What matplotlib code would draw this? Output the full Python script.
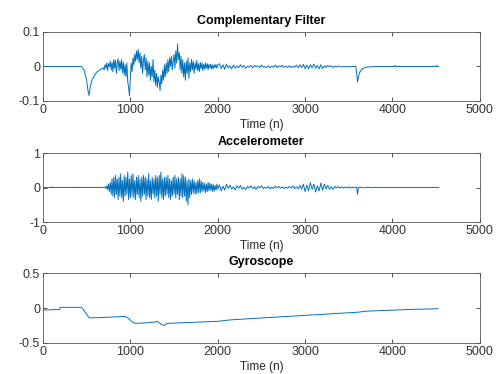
import numpy as np
import matplotlib.pyplot as plt

plt.rcParams['font.family'] = ['Liberation Sans', 'DejaVu Sans']
plt.rcParams['axes.unicode_minus'] = False

LINE_COLOR = '#0072BD'

# ---- Complementary filter ----
comp_head_n = [0, 440, 470, 500, 515, 527, 540, 560, 590, 620, 660, 690]
comp_head_v = [0, 0, -0.01, -0.04, -0.07, -0.084, -0.06, -0.04, -0.025, -0.015, -0.008, -0.004]

# samples 700..2000, every 10
comp_mid_v = [
    -0.01, 0.005, -0.005, 0.01, -0.012, 0.008, 0.0, 0.015, -0.01, 0.012,
    -0.015, 0.02, -0.005, 0.018, -0.02, 0.01, 0.022, -0.012, 0.015, -0.008,
    0.02, -0.018, 0.012, -0.025, 0.005, -0.03, 0.01, -0.045, -0.06, -0.085,
    -0.03, 0.01, -0.015, 0.025, 0.005, 0.035, 0.015, 0.045, 0.02, 0.05,
    0.01, 0.04, -0.005, 0.03, -0.02, 0.02, 0.035, -0.01, 0.025, -0.03,
    0.015, -0.025, 0.01, -0.04, 0.0, -0.03, 0.02, -0.045, -0.01, -0.055,
    -0.02, -0.06, -0.03, -0.045, -0.07, -0.025, -0.05, -0.01, -0.04, 0.005,
    -0.03, 0.01, -0.02, 0.02, -0.015, 0.025, 0.0, 0.03, -0.01, 0.015,
    0.035, -0.005, 0.045, 0.01, 0.065, 0.02, 0.04, -0.01, 0.03, -0.02,
    0.02, -0.03, 0.01, -0.04, 0.015, -0.02, 0.025, -0.035, 0.01, -0.015,
    0.02, -0.01, 0.015, -0.02, 0.01, -0.008, 0.018, -0.012, 0.008, -0.015,
    0.012, -0.006, 0.01, -0.012, 0.006, -0.008, 0.01, -0.005, 0.008, -0.01,
    0.006, -0.004, 0.007, -0.008, 0.004, -0.006, 0.005, -0.003, 0.006, -0.005,
    0.004,
]

# samples 2020..3400, every 20
comp_low_v = [
    0.008, -0.006, 0.005, -0.008, 0.007, -0.004, 0.002, -0.007, 0.004, -0.005,
    0.001, -0.003, 0.005, -0.002, 0.003, -0.005, 0.001, -0.002, 0.003, -0.004,
    0.003, -0.001, 0.002, -0.003, 0.004, -0.002, 0.0, -0.003, 0.002, -0.004,
    0.001, -0.002, 0.004, -0.003, 0.002, -0.001, 0.003, -0.002, 0.001, -0.003,
    0.002, -0.003, 0.001, -0.002, 0.004, -0.004, 0.005, -0.003, 0.006, -0.006,
    0.004, -0.007, 0.005, -0.004, 0.007, -0.005, 0.003, -0.007, 0.005, -0.006,
    0.002, -0.003, 0.003, -0.001, 0.002, -0.003, 0.001, -0.002, 0.002, -0.001,
]

comp_tail_n = [3580, 3590, 3600, 3610, 3630, 3660, 3700, 3800, 4020, 4030, 4040, 4500, 4510, 4520, 4530]
comp_tail_v = [0.0, -0.02, -0.045, -0.03, -0.015, -0.006, -0.002, 0.0, 0.0, 0.003, 0.0, 0.0, 0.003, 0.0, 0.0]

# ---- Accelerometer ----
acc_head_n = [0, 95, 100, 105, 395, 400, 405, 690]
acc_head_v = [0, 0, 0.02, 0, 0, 0.01, 0, 0]

# samples 700..2000, every 10
acc_mid_v = [
    0.0, 0.02, -0.03, 0.05, -0.06, 0.1, -0.12, 0.15, -0.2, 0.25,
    -0.25, 0.3, -0.3, 0.35, -0.2, 0.25, -0.35, 0.3, -0.25, 0.4,
    -0.3, 0.2, -0.4, 0.35, -0.25, 0.3, -0.2, 0.45, -0.35, 0.25,
    -0.3, 0.35, -0.25, 0.4, -0.3, 0.2, -0.35, 0.3, -0.2, 0.35,
    -0.3, 0.25, -0.4, 0.3, -0.25, 0.35, -0.2, 0.3, -0.35, 0.25,
    -0.25, 0.4, -0.3, 0.2, -0.35, 0.3, -0.2, 0.25, -0.3, 0.35,
    -0.25, 0.3, -0.4, 0.35, -0.2, 0.45, -0.3, 0.25, -0.35, 0.3,
    -0.25, 0.3, -0.2, 0.35, -0.3, 0.25, -0.35, 0.2, -0.25, 0.3,
    -0.2, 0.35, -0.3, 0.25, -0.2, 0.3, -0.35, 0.25, -0.25, 0.4,
    -0.3, 0.35, -0.25, 0.3, -0.4, 0.2, -0.5, 0.25, -0.3, 0.2,
    -0.2, 0.25, -0.15, 0.2, -0.2, 0.15, -0.18, 0.2, -0.15, 0.25,
    -0.15, 0.2, -0.12, 0.15, -0.1, 0.12, -0.15, 0.1, -0.12, 0.15,
    -0.1, 0.12, -0.08, 0.1, -0.12, 0.08, -0.1, 0.06, -0.08, 0.1,
    -0.05,
]

# samples 2020..3400, every 20
acc_low_v = [
    0.08, -0.1, 0.04, -0.08, 0.1, -0.03, 0.07, -0.05, 0.02, -0.07,
    0.05, -0.02, 0.06, -0.05, 0.01, -0.06, 0.03, -0.01, 0.05, -0.03,
    0.02, -0.05, 0.03, -0.01, 0.05, -0.03, 0.01, -0.02, 0.03, -0.04,
    0.01, -0.03, 0.04, -0.01, 0.03, -0.02, 0.02, -0.03, 0.01, -0.02,
    0.03, -0.01, 0.04, -0.03, 0.02, -0.04, 0.06, -0.05, 0.1, -0.12,
    0.07, -0.1, 0.14, -0.06, 0.1, -0.13, 0.05, -0.1, 0.13, -0.08,
    0.1, -0.04, 0.06, -0.05, 0.02, -0.05, 0.03, -0.01, 0.03, -0.02,
]

acc_tail_n = [3420, 3440, 3460, 3480, 3500, 3520, 3540, 3560, 3580, 3590, 3600, 3605, 3610,
              3640, 3680, 3720, 3760, 3800, 3840, 3880, 3920, 3960, 4000, 4530]
acc_tail_v = [0.02, -0.02, 0.015, -0.01, 0.02, -0.015, 0.01, -0.01, 0.01, 0.0, -0.2, -0.1, 0.0,
              0.01, -0.01, 0.008, -0.006, 0.005, -0.005, 0.004, -0.003, 0.002, -0.002, 0.0]

# ---- Gyroscope ----
gyro_n = [0, 190, 200, 440, 460, 500, 530, 560, 700, 850, 940, 980, 1020, 1060, 1200, 1280,
          1310, 1350, 1385, 1420, 1600, 1800, 2000, 2140, 2400, 2800, 3200, 3600, 3700, 3800,
          4000, 4200, 4520]
gyro_v = [-0.03, -0.02, 0.01, 0.01, -0.02, -0.09, -0.14, -0.14, -0.135, -0.125, -0.12, -0.15,
          -0.2, -0.22, -0.21, -0.2, -0.19, -0.23, -0.25, -0.22, -0.21, -0.2, -0.19, -0.17,
          -0.15, -0.12, -0.09, -0.06, -0.045, -0.04, -0.03, -0.02, -0.01]

mid_n = list(range(700, 2001, 10))
low_n = list(range(2020, 3401, 20))

comp_n = comp_head_n + mid_n + low_n + comp_tail_n
comp_v = comp_head_v + comp_mid_v + comp_low_v + comp_tail_v
acc_n = acc_head_n + mid_n + low_n + acc_tail_n
acc_v = acc_head_v + acc_mid_v + acc_low_v + acc_tail_v

panels = [
    ('Complementary Filter', comp_n, comp_v, [-0.1, 0, 0.1], ['-0.1', '0', '0.1']),
    ('Accelerometer', acc_n, acc_v, [-1, 0, 1], ['-1', '0', '1']),
    ('Gyroscope', gyro_n, gyro_v, [-0.5, 0, 0.5], ['-0.5', '0', '0.5']),
]
positions = [
    [0.0858, 0.730, 0.872, 0.1845],
    [0.0858, 0.4064, 0.872, 0.1845],
    [0.0858, 0.0829, 0.872, 0.187],
]

fig = plt.figure(figsize=(5.01, 3.74), dpi=100)
for (title, n, v, yt, ytl), pos in zip(panels, positions):
    ax = fig.add_axes(pos)
    ax.plot(n, v, color=LINE_COLOR, linewidth=0.7)
    ax.set_xlim(0, 5000)
    ax.set_ylim(yt[0], yt[-1])
    ax.set_xticks([0, 1000, 2000, 3000, 4000, 5000])
    ax.set_yticks(yt)
    ax.set_yticklabels(ytl)
    ax.tick_params(direction='in', top=True, right=True, length=3, width=0.6,
                   labelsize=9, colors='#333333', pad=2)
    for s in ax.spines.values():
        s.set_linewidth(0.6)
        s.set_color('#555555')
    ax.set_title(title, fontsize=9, fontweight='bold', pad=6)
    ax.set_xlabel('Time (n)', fontsize=8.5, labelpad=2.5, color='#262626')

fig.savefig('out.png', dpi=100)
